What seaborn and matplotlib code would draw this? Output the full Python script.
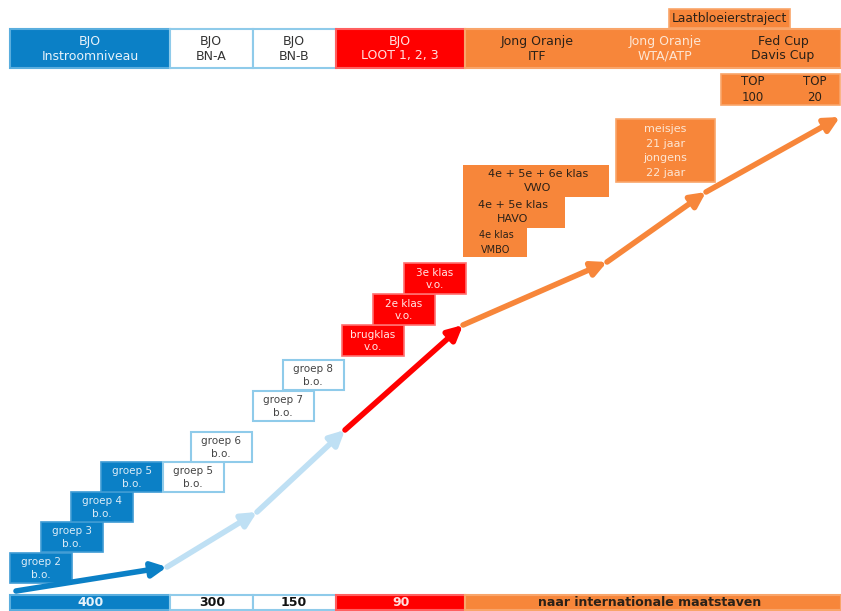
import matplotlib
matplotlib.use("Agg")
import matplotlib.pyplot as plt
import seaborn as sns
import pandas as pd

# colours
BLUE = "#0b80c6"
LBLUE = "#8fcbea"
RED = "#ff0000"
ORANGE = "#f7863a"
DARK = "#2b2118"

# header row
header_labels = ["BJO\nInstroomniveau", "BJO\nBN-A", "BJO\nBN-B", "BJO\nLOOT 1, 2, 3",
                 "Jong Oranje\nITF", "Jong Oranje\nWTA/ATP", "Fed Cup\nDavis Cup"]
extra_header = "Laatbloeierstraject"
top_labels = ["TOP\n100", "TOP\n20"]

# bottom row: players per level
bottom_labels = ["400", "300", "150", "90", "naar internationale maatstaven"]

# school years along the staircase
bo_blue = ["groep 2\nb.o.", "groep 3\nb.o.", "groep 4\nb.o.", "groep 5\nb.o."]
bo_white = ["groep 5\nb.o.", "groep 6\nb.o.", "groep 7\nb.o.", "groep 8\nb.o."]
vo_red = ["brugklas\nv.o.", "2e klas\nv.o.", "3e klas\nv.o."]
vo_orange = ["4e + 5e + 6e klas\nVWO", "4e + 5e klas\nHAVO", "4e klas\nVMBO"]
age_label = "meisjes\n21 jaar\njongens\n22 jaar"

sns.set_theme(style="white")
plt.rcParams['font.family'] = ['DejaVu Sans']

fig = plt.figure(figsize=(8.41, 6.11), dpi=100)
ax = fig.add_axes([0, 0, 1, 1])
ax.set_xlim(0, 841)
ax.set_ylim(611, 0)
ax.axis("off")


def box(x0, x1, y0, y1, face, edge, lw=1.2, z=2):
    ax.barh(y=(y0 + y1) / 2, width=x1 - x0, left=x0, height=y1 - y0,
            color=face, edgecolor=edge, linewidth=lw, zorder=z)


def label(x, y, s, color, size=8, weight="normal", ls=1.0):
    ax.text(x, y, s, color=color, fontsize=size, ha="center", va="center",
            linespacing=ls, fontweight=weight, zorder=5)


# header bar
hx = [10, 170, 253, 336, 465]
hw = [160, 83, 83, 129, 376]
hface = [BLUE, "white", "white", RED, ORANGE]
hedge = ["#5aaede", LBLUE, LBLUE, "#ff6060", "#f9a56a"]
for x0, w, f, e in zip(hx, hw, hface, hedge):
    box(x0, x0 + w, 29, 68, f, e, lw=1.5)
hcx = [90, 211, 294, 400, 537, 665, 783]
hcol = ["#e6f2fa", "#333333", "#333333", "#ffe0e0", DARK, "#fde6d4", DARK]
for cx, s, c in zip(hcx, header_labels, hcol):
    label(cx, 48.5, s, c, size=9, ls=1.2)

box(669, 790, 9, 28, ORANGE, "#f9a56a")
label(729, 18.5, extra_header, DARK, size=8.8)
box(721, 840, 74, 105, ORANGE, "#f9a56a")
for cx, s in zip([753, 815], top_labels):
    label(cx, 89.5, s, DARK, size=8.5, ls=1.3)

# bottom bar
for x0, w, f, e in zip(hx, hw, hface, hedge):
    box(x0, x0 + w, 595, 610, f, e, lw=1.5)
bcx = [91, 212, 294, 401, 650]
bcol = ["#e6f2fa", "#111111", "#111111", "#ffe0e0", DARK]
for cx, s, c in zip(bcx, bottom_labels, bcol):
    label(cx, 603, s, c, size=9, weight="bold")

# blue staircase (b.o.)
blue_x = [10, 41, 71, 101]
blue_y = [553, 522, 492, 462]
for x0, y0, s in zip(blue_x, blue_y, bo_blue):
    box(x0, x0 + 62, y0, y0 + 30, BLUE, "#3e9bd4")
    label(x0 + 31, y0 + 15.5, s, "#dcecf7", size=7.5, ls=1.35)

# white staircase (b.o.)
white_x = [163, 191, 253, 283]
white_y = [462, 432, 391, 360]
for x0, y0, s in zip(white_x, white_y, bo_white):
    box(x0, x0 + 61, y0, y0 + 30, "white", LBLUE, lw=1.5)
    label(x0 + 30, y0 + 15.5, s, "#444444", size=7.5, ls=1.35)

# red staircase (v.o.)
red_x = [342, 373, 404]
red_y = [325, 294, 263]
for x0, y0, s in zip(red_x, red_y, vo_red):
    box(x0, x0 + 62, y0, y0 + 31, RED, "#ff7070")
    label(x0 + 31, y0 + 16, s, "#ffe8e8", size=7.5, ls=1.35)

# orange staircase (v.o. upper years)
box(463, 609, 165, 197, ORANGE, "#f9a56a", lw=0)
box(463, 565, 196, 228, ORANGE, "#f9a56a", lw=0)
box(463, 527, 227, 257, ORANGE, "#f9a56a", lw=0)
label(538, 181, vo_orange[0], DARK, size=8, ls=1.45)
label(513, 212, vo_orange[1], DARK, size=8, ls=1.45)
label(496, 242.5, vo_orange[2], DARK, size=7, ls=1.6)

box(616, 715, 119, 182, ORANGE, "#f9a56a")
label(665.5, 151, age_label, "#fde6d4", size=8, ls=1.55)

# development path
path = pd.DataFrame({
    "x": [16, 167, 257, 345, 463, 607, 706, 840],
    "y": [591, 567, 512, 430, 325, 262, 192, 117],
})
seg_colors = [BLUE, "#bfe0f4", "#bfe0f4", RED, ORANGE, ORANGE, ORANGE]
for i in range(len(path) - 1):
    ax.annotate("", xy=(path.x[i + 1], path.y[i + 1]), xytext=(path.x[i], path.y[i]),
                arrowprops=dict(arrowstyle="-|>", color=seg_colors[i], lw=4,
                                mutation_scale=22, shrinkA=0, shrinkB=0),
                zorder=3)

fig.savefig("out.png", dpi=100)
